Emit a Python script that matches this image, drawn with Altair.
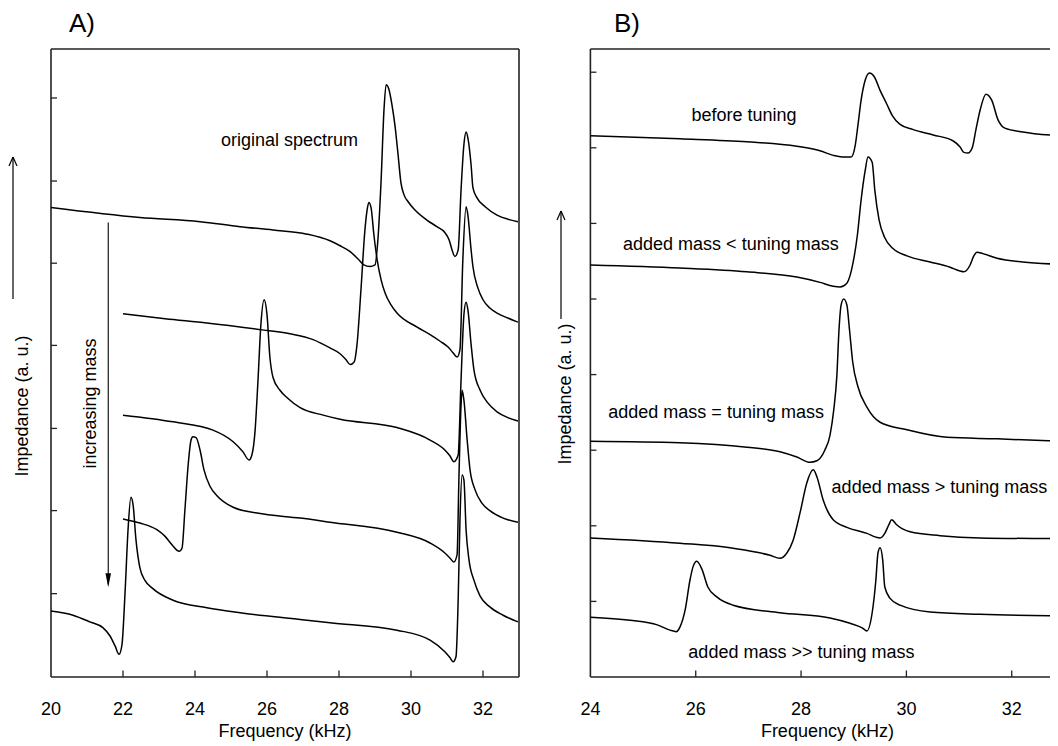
import altair as alt
import pandas as pd

FONT = "Liberation Sans"

# ---------------- Panel A: impedance spectra (a.u.) vs frequency (kHz) ----------------
a1_f = [20.00, 22.47, 24.14, 25.25, 26.17, 27.11, 27.75, 28.03, 28.31, 28.53,
        28.69, 28.86, 29.00, 29.08, 29.17, 29.25, 29.31, 29.39, 29.47, 29.56,
        29.64, 29.72, 29.81, 29.92, 30.11, 30.44, 30.72, 30.94, 31.06, 31.14,
        31.22, 31.31, 31.39, 31.47, 31.53, 31.58, 31.67, 31.72, 31.83, 32.06,
        32.39, 32.69, 32.97]
a1_v = [5.69, 5.57, 5.52, 5.46, 5.42, 5.37, 5.29, 5.23, 5.16, 5.07,
        5.00, 4.98, 5.00, 5.30, 6.02, 6.87, 7.17, 7.11, 6.93, 6.66,
        6.33, 5.99, 5.84, 5.76, 5.66, 5.54, 5.46, 5.39, 5.30, 5.18,
        5.10, 5.18, 5.90, 6.45, 6.60, 6.53, 6.20, 5.93, 5.81, 5.70,
        5.60, 5.55, 5.52]

a2_f = [22.00, 23.17, 24.33, 25.81, 26.64, 27.28, 27.75, 28.03, 28.19, 28.31,
        28.42, 28.50, 28.61, 28.72, 28.78, 28.83, 28.89, 28.97, 29.06, 29.17,
        29.28, 29.44, 29.61, 30.17, 30.53, 30.81, 31.03, 31.17, 31.28, 31.36,
        31.44, 31.53, 31.58, 31.67, 31.72, 31.86, 32.00, 32.19, 32.39, 32.69,
        32.97]
a2_v = [4.41, 4.35, 4.30, 4.22, 4.17, 4.10, 4.00, 3.93, 3.86, 3.80,
        3.83, 4.04, 4.70, 5.42, 5.66, 5.75, 5.69, 5.36, 5.06, 4.82,
        4.66, 4.52, 4.42, 4.25, 4.16, 4.08, 4.01, 3.94, 3.89, 3.98,
        5.06, 5.70, 5.60, 5.18, 4.98, 4.72, 4.58, 4.48, 4.42, 4.36,
        4.31]

a3_f = [22.00, 23.39, 24.50, 25.06, 25.33, 25.50, 25.58, 25.67, 25.75, 25.83,
        25.92, 26.00, 26.08, 26.17, 26.36, 26.56, 26.92, 27.56, 28.03, 29.61,
        30.53, 30.94, 31.08, 31.19, 31.31, 31.39, 31.47, 31.53, 31.58, 31.67,
        31.75, 31.92, 32.11, 32.39, 32.69, 32.97]
a3_v = [3.19, 3.11, 3.01, 2.87, 2.75, 2.65, 2.71, 3.01, 3.61, 4.28,
        4.58, 4.40, 3.89, 3.64, 3.49, 3.40, 3.28, 3.19, 3.14, 3.04,
        2.89, 2.77, 2.70, 2.63, 2.71, 3.61, 4.40, 4.55, 4.46, 4.04,
        3.73, 3.49, 3.35, 3.23, 3.16, 3.12]

a4_f = [22.00, 22.47, 22.94, 23.17, 23.36, 23.56, 23.64, 23.72, 23.81, 23.89,
        23.94, 24.03, 24.14, 24.25, 24.42, 24.61, 25.06, 25.72, 26.92, 27.75,
        29.61, 30.53, 30.94, 31.08, 31.19, 31.28, 31.33, 31.39, 31.42, 31.47,
        31.56, 31.64, 31.78, 31.97, 32.19, 32.56, 32.97]
a4_v = [1.94, 1.89, 1.81, 1.73, 1.63, 1.55, 1.59, 2.05, 2.59, 2.89,
        2.93, 2.92, 2.77, 2.53, 2.33, 2.22, 2.08, 2.01, 1.95, 1.90,
        1.78, 1.65, 1.53, 1.47, 1.42, 1.51, 2.41, 3.31, 3.49, 3.37,
        2.89, 2.53, 2.29, 2.13, 2.04, 1.95, 1.90]

a5_f = [20.00, 20.61, 21.08, 21.44, 21.64, 21.78, 21.89, 21.97, 22.06, 22.14,
        22.22, 22.28, 22.36, 22.47, 22.61, 22.83, 23.39, 24.33, 25.25, 26.92,
        27.75, 29.61, 30.53, 30.94, 31.08, 31.17, 31.25, 31.31, 31.36, 31.42,
        31.47, 31.53, 31.61, 31.75, 31.92, 32.19, 32.56, 32.97]
a5_v = [0.83, 0.78, 0.70, 0.63, 0.53, 0.41, 0.31, 0.42, 1.08, 1.81,
        2.20, 2.11, 1.69, 1.35, 1.20, 1.10, 0.96, 0.87, 0.81, 0.73,
        0.69, 0.60, 0.48, 0.34, 0.27, 0.22, 0.28, 0.96, 1.93, 2.47,
        2.41, 1.81, 1.45, 1.20, 1.01, 0.88, 0.78, 0.70]

# ---------------- Panel B ----------------
b1_f = [24.00, 25.70, 26.97, 27.92, 28.36, 28.61, 28.78, 28.95, 29.03, 29.08,
        29.14, 29.22, 29.30, 29.39, 29.50, 29.62, 29.73, 29.88, 30.13, 30.51,
        30.89, 31.02, 31.09, 31.17, 31.25, 31.32, 31.40, 31.51, 31.62, 31.74,
        31.87, 32.21, 32.88]
b1_v = [7.16, 7.12, 7.08, 7.02, 6.96, 6.90, 6.88, 6.88, 7.04, 7.30,
        7.63, 7.90, 7.99, 7.94, 7.76, 7.59, 7.43, 7.31, 7.24, 7.17,
        7.09, 7.01, 6.94, 6.93, 7.00, 7.24, 7.50, 7.71, 7.63, 7.37,
        7.26, 7.21, 7.16]

b2_f = [24.00, 25.70, 26.97, 27.92, 28.36, 28.61, 28.74, 28.87, 28.99, 29.07,
        29.14, 29.22, 29.27, 29.35, 29.40, 29.48, 29.59, 29.74, 30.01, 30.45,
        30.83, 31.02, 31.09, 31.21, 31.28, 31.34, 31.45, 31.72, 32.21, 32.88]
b2_v = [5.45, 5.41, 5.36, 5.29, 5.22, 5.17, 5.16, 5.21, 5.49, 5.85,
        6.31, 6.71, 6.88, 6.81, 6.44, 6.05, 5.81, 5.67, 5.57, 5.49,
        5.42, 5.37, 5.36, 5.45, 5.57, 5.62, 5.60, 5.54, 5.49, 5.46]

b3_f = [24.00, 25.70, 26.97, 27.60, 27.92, 28.17, 28.30, 28.45, 28.55, 28.62,
        28.68, 28.72, 28.76, 28.81, 28.87, 28.92, 28.98, 29.08, 29.25, 29.50,
        30.01, 30.77, 31.72, 32.88]
b3_v = [3.12, 3.10, 3.04, 2.98, 2.91, 2.84, 2.86, 3.00, 3.20, 3.53,
        3.99, 4.59, 4.92, 5.00, 4.92, 4.59, 4.17, 3.84, 3.57, 3.37,
        3.27, 3.17, 3.15, 3.12]

b4_f = [24.00, 25.70, 26.65, 27.16, 27.41, 27.60, 27.73, 27.85, 27.98, 28.11,
        28.23, 28.30, 28.42, 28.61, 28.87, 29.25, 29.42, 29.50, 29.59, 29.67,
        29.72, 29.82, 30.07, 30.64, 31.40, 32.88]
b4_v = [1.84, 1.77, 1.71, 1.65, 1.61, 1.57, 1.64, 1.81, 2.17, 2.57,
        2.74, 2.65, 2.34, 2.08, 1.98, 1.90, 1.85, 1.84, 1.90, 2.02,
        2.08, 2.01, 1.92, 1.87, 1.84, 1.83]

b5_f = [24.00, 24.75, 25.27, 25.51, 25.63, 25.70, 25.80, 25.89, 25.95, 26.02,
        26.12, 26.23, 26.40, 26.71, 27.60, 28.55, 28.93, 29.16, 29.25, 29.35,
        29.42, 29.46, 29.50, 29.55, 29.59, 29.69, 29.88, 30.45, 31.40, 32.88]
b5_v = [0.79, 0.75, 0.69, 0.62, 0.60, 0.66, 0.89, 1.28, 1.46, 1.53,
        1.42, 1.19, 1.06, 0.95, 0.85, 0.78, 0.71, 0.65, 0.61, 0.85,
        1.28, 1.64, 1.71, 1.55, 1.19, 1.04, 0.95, 0.86, 0.83, 0.81]

# ---------------- ticks, tick labels, annotations ----------------
a_tick_labels = [20, 22, 24, 26, 28, 30, 32]
a_xticks = [22, 24, 26, 28, 30, 32]
a_yticks = [1.04, 2.04, 3.03, 4.03, 5.02, 6.01, 7.01]
b_tick_labels = [24, 26, 28, 30, 32]
b_xticks = [26, 28, 30, 32]
b_yticks = [1, 2, 3, 4, 5, 6, 7, 8]

a_note_text = ["original spectrum"]
a_note_f = [24.72]
a_note_v = [6.43]

b_note_text = ["before tuning", "added mass < tuning mass", "added mass = tuning mass",
               "added mass > tuning mass", "added mass >> tuning mass"]
b_note_f = [25.92, 24.62, 24.34, 28.58, 25.86]
b_note_v = [7.35, 5.65, 3.43, 2.43, 0.25]

A_XDOM = [20, 33]
A_YDOM = [0.036, 7.60]
B_XDOM = [24, 33]
B_YDOM = [0.0, 8.307]

W = 999
H = 628
A_RANGE = [0, 468]
B_RANGE = [539.4, 1013.4]


def curves_df(curves):
    parts = []
    for name, (fs, vs) in curves.items():
        d = pd.DataFrame({"f": fs, "v": vs})
        d["curve"] = name
        d["i"] = range(len(d))
        parts.append(d)
    return pd.concat(parts, ignore_index=True)


def panel(curves, xdom, xrange, ydom, right_frame, xticks, tick_labels, yticks,
          note_text, note_f, note_v):
    xs = alt.Scale(domain=xdom, range=xrange, nice=False, zero=False)
    ys = alt.Scale(domain=ydom, nice=False, zero=False)

    def X(field):
        return alt.X(field, type="quantitative", scale=xs, axis=None)

    def Y(field):
        return alt.Y(field, type="quantitative", scale=ys, axis=None)

    lines = alt.Chart(curves_df(curves)).mark_line(
        color="black", strokeWidth=1.5, interpolate="monotone"
    ).encode(x=X("f"), y=Y("v"), detail="curve:N", order="i:Q")

    x0, x1 = xdom
    y0, y1 = ydom
    seg = {"f": [x0, x0, x0], "f2": [x1, x1, x0], "v": [y0, y1, y0], "v2": [y0, y1, y1]}
    if right_frame:
        seg["f"].append(x1); seg["f2"].append(x1); seg["v"].append(y0); seg["v2"].append(y1)
    frame = alt.Chart(pd.DataFrame(seg)).mark_rule(color="#222", strokeWidth=1.6).encode(
        x=X("f"), x2="f2", y=Y("v"), y2="v2")

    px_x = (x1 - x0) / (xrange[1] - xrange[0])
    px_y = (y1 - y0) / H
    yt = alt.Chart(pd.DataFrame({"v": yticks, "a": [x0] * len(yticks),
                                 "b": [x0 + 6 * px_x] * len(yticks)})).mark_rule(
        color="#222", strokeWidth=1.3).encode(y=Y("v"), x=X("a"), x2="b")
    xt = alt.Chart(pd.DataFrame({"f": xticks, "a": [y0] * len(xticks),
                                 "b": [y0 + 6.5 * px_y] * len(xticks)})).mark_rule(
        color="#222", strokeWidth=1.3).encode(x=X("f"), y=Y("a"), y2="b")
    labels = alt.Chart(pd.DataFrame({"f": tick_labels})).mark_text(
        font=FONT, fontSize=18, align="center", baseline="alphabetic", color="black"
    ).encode(x=X("f"), y=alt.value(666), text=alt.Text("f:Q", format="d"))
    title = alt.Chart(pd.DataFrame({"f": [(x0 + x1) / 2], "t": ["Frequency (kHz)"]})).mark_text(
        font=FONT, fontSize=18, align="center", baseline="alphabetic", color="black"
    ).encode(x=X("f"), y=alt.value(688), text="t:N")
    notes = alt.Chart(pd.DataFrame({"f": note_f, "v": note_v, "label": note_text})).mark_text(
        font=FONT, fontSize=18, align="left", baseline="alphabetic", color="black"
    ).encode(x=X("f"), y=Y("v"), text="label:N")
    return [frame, yt, xt, lines, labels, title, notes], X, Y


layers_a, XA, YA = panel(
    {"A1": (a1_f, a1_v), "A2": (a2_f, a2_v), "A3": (a3_f, a3_v),
     "A4": (a4_f, a4_v), "A5": (a5_f, a5_v)},
    A_XDOM, A_RANGE, A_YDOM, True, a_xticks, a_tick_labels, a_yticks,
    a_note_text, a_note_f, a_note_v)

layers_b, XB, YB = panel(
    {"B1": (b1_f, b1_v), "B2": (b2_f, b2_v), "B3": (b3_f, b3_v),
     "B4": (b4_f, b4_v), "B5": (b5_f, b5_v)},
    B_XDOM, B_RANGE, B_YDOM, False, b_xticks, b_tick_labels, b_yticks,
    b_note_text, b_note_f, b_note_v)

one = pd.DataFrame({"k": [0]})

# "increasing mass" arrow and label (panel A, data coordinates)
inc = alt.Chart(pd.DataFrame({"f": [21.25], "v": [3.33], "t": ["increasing mass"]})).mark_text(
    font=FONT, fontSize=18, angle=270, align="center", baseline="alphabetic", color="black"
).encode(x=XA("f"), y=YA("v"), text="t:N")
inc_shaft = alt.Chart(pd.DataFrame({"f": [21.59], "v": [5.51], "v2": [1.15]})).mark_rule(
    color="black", strokeWidth=1.1).encode(x=XA("f"), y=YA("v"), y2="v2")
inc_head = alt.Chart(pd.DataFrame({"f": [21.59], "v": [1.20]})).mark_point(
    shape="M-0.4,-1L0.4,-1L0,1Z", size=196, filled=True, color="black", opacity=1
).encode(x=XA("f"), y=YA("v"))
layers_a += [inc, inc_shaft, inc_head]


def txt(s, x, y, size=18, angle=0, align="left", baseline="alphabetic"):
    kw = dict(font=FONT, fontSize=size, align=align, baseline=baseline, color="black")
    if angle:
        kw["angle"] = angle
    return alt.Chart(one).mark_text(text=s, **kw).encode(x=alt.value(x), y=alt.value(y))


def seg(x, y, x2, y2, w=1.2):
    return alt.Chart(one).mark_rule(color="black", strokeWidth=w).encode(
        x=alt.value(x), y=alt.value(y), x2=alt.value(x2), y2=alt.value(y2))


decor = [
    txt("A)", 18, -17, size=26),
    txt("B)", 563, -17, size=26),
    txt("Impedance (a. u.)", -23, 357, angle=270, align="center"),
    txt("Impedance (a. u.)", 520, 345, angle=270, align="center"),
    seg(-38, 250, -38, 108), seg(-38, 108, -42, 117), seg(-38, 108, -34, 117),
    seg(510, 270, 510, 162), seg(510, 162, 506, 171), seg(510, 162, 514, 171),
]

chart = alt.layer(*(layers_a + layers_b + decor)).resolve_scale(
    x="independent", y="independent"
).properties(
    width=W, height=H,
    padding={"left": 43, "top": 41, "right": 0, "bottom": 69},
    autosize=alt.AutoSizeParams(type="none"),
    background="white",
).configure_view(stroke=None)

chart.save("out.html", embed_options={"renderer": "svg", "actions": False})
